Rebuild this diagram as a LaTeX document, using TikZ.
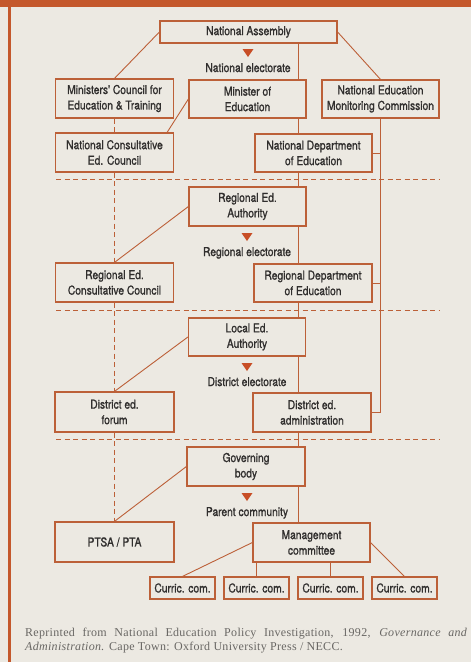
\documentclass[tikz,border=0pt]{standalone}
\usepackage{fontspec}
\setmainfont{Liberation Serif}
\newfontfamily\chartfont{TeX Gyre Heros}[FakeStretch=0.84, FakeBold=1.2]
\newfontfamily\capfont{Liberation Serif}[LetterSpace=2.5]
\usetikzlibrary{positioning,calc}

\definecolor{rust}{RGB}{188,96,56}
\definecolor{tribrown}{RGB}{200,78,38}
\definecolor{paper}{RGB}{236,233,226}
\definecolor{band}{RGB}{196,88,44}
\definecolor{ink}{RGB}{48,46,45}
\definecolor{capgray}{RGB}{105,103,100}

\tikzset{
  box/.style={draw=rust, line width=1.2pt, fill=paper, text=ink, align=center,
    font=\chartfont\fontsize{12.2}{15.5}\selectfont, inner sep=1pt,
    minimum width=117pt, minimum height=38pt},
  smallbox/.style={box, minimum width=65pt, minimum height=22pt},
  link/.style={draw=rust, line width=0.9pt},
  dlink/.style={link, dash pattern=on 5pt off 3.5pt},
  elect/.style={text=ink, font=\chartfont\fontsize{12.2}{14}\selectfont, inner sep=0pt, anchor=base},
  tri/.style={fill=tribrown},
}

\begin{document}
\begin{tikzpicture}[x=1pt, y=-1pt]
  % page and frame
  \fill[paper] (0,0) rectangle (471,662);
  \useasboundingbox (0,0) rectangle (471,662);
  \fill[band] (0,0) rectangle (471,7);
  \fill[band] (8,0) rectangle (11,662);

  % columns
  \coordinate (spine) at (298.5,0);
  \coordinate (leftcol) at (114.5,0);

  % national level
  \node[box, minimum width=177pt, minimum height=22pt] (NA) at (248.5,32) {National Assembly};
  \node[elect] (natEl) at (248,72) {National electorate};
  \node[box, minimum width=118pt, minimum height=39pt] (MCET) at (114.5,98.5) {Ministers' Council for\\Education \& Training};
  \node[box] (ME) at (247.5,99) {Minister of\\Education};
  \node[box] (NEMC) at (380.5,99) {National Education\\Monitoring Commission};
  \node[box, minimum width=118pt, minimum height=39pt] (NCEC) at (114.5,152.5) {National Consultative\\Ed. Council};
  \node[box] (NDE) at (313.5,153) {National Department\\of Education};

  % regional level
  \node[box, minimum height=39pt] (REA) at (247.5,206.5) {Regional Ed.\\Authority};
  \node[elect] (regEl) at (247,256) {Regional electorate};
  \node[box, minimum width=118pt, minimum height=39pt] (REC) at (114.5,282.5) {Regional Ed.\\Consultative Council};
  \node[box, minimum width=118pt] (RDE) at (313,283) {Regional Department\\of Education};

  % district level
  \node[box] (LEA) at (247,337) {Local Ed.\\Authority};
  \node[elect] (disEl) at (247,386) {District electorate};
  \node[box, minimum width=119pt, minimum height=40pt] (DF) at (114.5,412) {District ed.\\forum};
  \node[box, minimum width=118pt, minimum height=39pt] (DA) at (312,412.5) {District ed.\\administration};

  % school level
  \node[box, minimum width=118pt, minimum height=39pt] (GB) at (246,466.5) {Governing\\body};
  \node[elect] (parEl) at (247,516) {Parent community};
  \node[box, minimum width=119pt, minimum height=40pt] (PTSA) at (114.5,542) {PTSA / PTA};
  \node[box, minimum height=39pt] (MC) at (311.5,542.5) {Management\\committee};
  \node[smallbox] (C1) at (182.5,588) {Curric. com.};
  \node[smallbox] (C2) at (256.5,588) {Curric. com.};
  \node[smallbox] (C3) at (330.5,588) {Curric. com.};
  \node[smallbox] (C4) at (404.5,588) {Curric. com.};

  % electorate markers
  \foreach \lab in {natEl,regEl,disEl,parEl}
    \fill[tri] ($(\lab.base)+(-5.5,-23)$) -- ++(11,0) -- ++(-5.5,8) -- cycle;

  % level separators
  \foreach \yy in {179.5,310,439}
    \draw[dlink] (56,\yy) -- (440,\yy);

  % main spine
  \foreach \a/\b in {NA/ME, ME/NDE, NDE/REA, REA/RDE, RDE/LEA, LEA/DA, DA/GB, GB/MC}
    \draw[link] (\a.south -| spine) -- (\b.north -| spine);

  % consultative column
  \foreach \a/\b in {MCET/NCEC, NCEC/REC, REC/DF, DF/PTSA}
    \draw[dlink] (\a.south -| leftcol) -- (\b.north -| leftcol);

  % links
  \draw[link] (NA.west) -- (MCET.north);
  \draw[link] (NA.east) -- (NEMC.north);
  \draw[link] (ME.west) -- ($(NCEC.north east)+(-7,0)$);
  \draw[link] (REA.west) -- (REC.north);
  \draw[link] (LEA.west) -- (DF.north);
  \draw[link] (GB.west) -- (PTSA.north);
  \draw[link] (MC.west) -- (C1.north);
  \draw[link] (MC.east) -- (C4.north);
  \draw[link] (MC.south -| C2.north) -- (C2.north);
  \draw[link] (MC.south -| C3.north) -- (C3.north);

  % monitoring line
  \draw[link] (NEMC.south) |- (DA.east);
  \draw[link] (NDE.east) -- (NDE.east -| NEMC.south);
  \draw[link] (RDE.east) -- (RDE.east -| NEMC.south);

  % source
  \node[anchor=north west, inner sep=0pt, text width=442pt, align=justify, text=capgray,
    font=\capfont\fontsize{12}{14}\selectfont] (source) at (25,627.5)
    {Reprinted from National Education Policy Investigation, 1992, \textit{Governance and}\linebreak
     \textit{Administration.} Cape Town: Oxford University Press / NECC.};
\end{tikzpicture}
\end{document}
